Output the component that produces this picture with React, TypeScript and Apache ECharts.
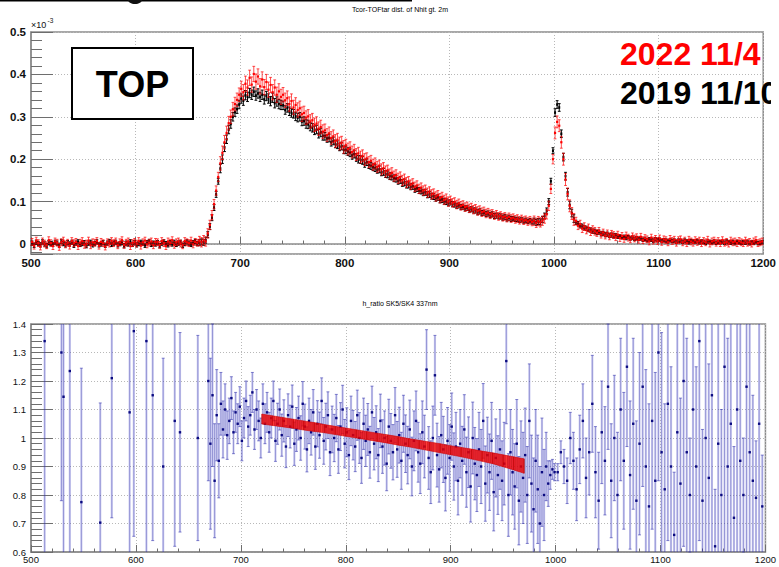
import React, { useEffect, useRef } from "react";
import * as echarts from "echarts";

// ---------------- data ----------------
const X_MIN = 500;
const X_MAX = 1200;
const X_INTERVAL = 100;

// top panel: Tcor-TOFtar distribution (units of 1e-3), bins centred at 501 + 2*i
const TOP_X_START = 501;
const TOP_X_STEP = 2;
const BLACK_2019 = [
  0.002, -0.003, 0.004, 0.001, -0.002, 0.005, 0.0, -0.004, 0.003, 0.001,
  -0.001, 0.004, 0.002, -0.003, 0.006, 0.001, -0.002, 0.003, 0.0, 0.004,
  -0.003, 0.002, 0.005, -0.001, 0.001, 0.003, -0.004, 0.002, 0.004, -0.002,
  0.001, 0.005, -0.002, 0.0, 0.003, -0.003, 0.002, 0.006, -0.001, 0.002,
  0.004, -0.002, 0.001, 0.003, -0.004, 0.002, 0.0, 0.005, -0.001, 0.003,
  -0.002, 0.001, 0.004, 0.002, -0.003, 0.003, 0.006, -0.001, 0.002, 0.0,
  0.003, -0.004, 0.002, 0.005, 0.001, -0.002, 0.003, 0.0, 0.004, -0.001,
  0.002, 0.004, -0.003, 0.001, 0.005, 0.002, -0.001, 0.003, 0.006, 0.001,
  0.003, 0.005, 0.004, 0.009, 0.022, 0.041, 0.062, 0.086, 0.117, 0.148,
  0.178, 0.2, 0.228, 0.247, 0.27, 0.283, 0.3, 0.311, 0.318, 0.329,
  0.343, 0.338, 0.351, 0.347, 0.356, 0.352, 0.359, 0.35, 0.355, 0.347,
  0.352, 0.341, 0.349, 0.343, 0.337, 0.345, 0.332, 0.336, 0.33, 0.328,
  0.327, 0.316, 0.321, 0.313, 0.309, 0.307, 0.301, 0.298, 0.3, 0.289,
  0.29, 0.283, 0.282, 0.277, 0.274, 0.268, 0.27, 0.26, 0.263, 0.255,
  0.254, 0.249, 0.25, 0.24, 0.243, 0.236, 0.234, 0.229, 0.231, 0.222,
  0.222, 0.218, 0.215, 0.209, 0.212, 0.204, 0.2, 0.199, 0.197, 0.19,
  0.193, 0.186, 0.184, 0.181, 0.179, 0.175, 0.176, 0.169, 0.17, 0.165,
  0.164, 0.16, 0.159, 0.155, 0.154, 0.149, 0.151, 0.144, 0.145, 0.14,
  0.139, 0.135, 0.136, 0.129, 0.131, 0.126, 0.125, 0.121, 0.122, 0.116,
  0.117, 0.113, 0.112, 0.108, 0.11, 0.104, 0.105, 0.101, 0.1, 0.097,
  0.098, 0.094, 0.093, 0.09, 0.091, 0.087, 0.088, 0.084, 0.085, 0.081,
  0.082, 0.079, 0.079, 0.075, 0.077, 0.073, 0.074, 0.071, 0.072, 0.068,
  0.07, 0.066, 0.067, 0.065, 0.065, 0.062, 0.064, 0.06, 0.062, 0.059,
  0.06, 0.058, 0.058, 0.056, 0.057, 0.054, 0.056, 0.053, 0.055, 0.052,
  0.054, 0.051, 0.053, 0.052, 0.058, 0.066, 0.078, 0.1, 0.148, 0.22,
  0.31, 0.329, 0.322, 0.26, 0.205, 0.16, 0.122, 0.092, 0.073, 0.06,
  0.051, 0.048, 0.043, 0.042, 0.038, 0.037, 0.034, 0.033, 0.03, 0.03,
  0.027, 0.028, 0.024, 0.025, 0.022, 0.023, 0.02, 0.021, 0.019, 0.02,
  0.017, 0.018, 0.016, 0.017, 0.014, 0.016, 0.013, 0.015, 0.012, 0.014,
  0.012, 0.013, 0.01, 0.012, 0.009, 0.011, 0.01, 0.008, 0.011, 0.009,
  0.01, 0.007, 0.009, 0.008, 0.006, 0.009, 0.007, 0.008, 0.005, 0.008,
  0.007, 0.005, 0.008, 0.006, 0.004, 0.007, 0.006, 0.005, 0.007, 0.004,
  0.006, 0.005, 0.003, 0.006, 0.005, 0.004, 0.006, 0.003, 0.005, 0.004,
  0.005, 0.003, 0.006, 0.004, 0.003, 0.005, 0.002, 0.005, 0.004, 0.003,
  0.004, 0.003, 0.005, 0.002, 0.004, 0.003, 0.005, 0.002, 0.003, 0.004,
];
const RED_2022 = [
  0.005, -0.004, 0.008, 0.002, -0.006, 0.006, 0.001, -0.003, 0.009, 0.002,
  -0.005, 0.006, 0.003, -0.007, 0.004, 0.008, -0.001, 0.003, -0.004, 0.007,
  0.002, 0.005, -0.005, 0.003, 0.007, -0.002, 0.001, 0.008, -0.003, 0.004,
  0.003, 0.007, -0.004, 0.005, 0.002, -0.006, 0.004, 0.001, 0.007, 0.002,
  0.006, -0.003, 0.004, 0.009, -0.002, 0.003, 0.006, -0.005, 0.002, 0.005,
  0.001, 0.007, -0.004, 0.004, 0.008, -0.001, 0.003, 0.006, -0.003, 0.005,
  0.004, -0.002, 0.007, 0.002, -0.005, 0.006, 0.003, 0.009, -0.002, 0.004,
  0.006, 0.001, -0.003, 0.007, 0.004, 0.002, 0.008, -0.001, 0.005, 0.003,
  0.007, 0.004, 0.009, 0.006, 0.025, 0.045, 0.068, 0.094, 0.126, 0.158,
  0.19, 0.215, 0.24, 0.262, 0.285, 0.3, 0.318, 0.33, 0.34, 0.352,
  0.366, 0.358, 0.378, 0.369, 0.392, 0.376, 0.401, 0.383, 0.395, 0.372,
  0.388, 0.37, 0.382, 0.364, 0.375, 0.358, 0.369, 0.352, 0.36, 0.347,
  0.352, 0.339, 0.344, 0.33, 0.337, 0.322, 0.328, 0.316, 0.32, 0.306,
  0.309, 0.298, 0.301, 0.289, 0.292, 0.281, 0.284, 0.272, 0.276, 0.265,
  0.268, 0.257, 0.261, 0.25, 0.254, 0.243, 0.246, 0.237, 0.239, 0.229,
  0.233, 0.224, 0.227, 0.217, 0.221, 0.211, 0.214, 0.205, 0.208, 0.199,
  0.202, 0.193, 0.196, 0.187, 0.19, 0.182, 0.185, 0.176, 0.179, 0.171,
  0.174, 0.165, 0.168, 0.16, 0.163, 0.155, 0.158, 0.15, 0.153, 0.145,
  0.148, 0.14, 0.143, 0.135, 0.138, 0.13, 0.133, 0.126, 0.128, 0.121,
  0.124, 0.117, 0.119, 0.112, 0.115, 0.108, 0.111, 0.104, 0.107, 0.1,
  0.103, 0.097, 0.099, 0.093, 0.096, 0.09, 0.092, 0.087, 0.089, 0.084,
  0.086, 0.081, 0.083, 0.078, 0.08, 0.075, 0.077, 0.072, 0.074, 0.07,
  0.072, 0.067, 0.07, 0.065, 0.067, 0.063, 0.065, 0.061, 0.064, 0.06,
  0.062, 0.058, 0.06, 0.056, 0.059, 0.055, 0.057, 0.053, 0.056, 0.052,
  0.055, 0.05, 0.054, 0.051, 0.055, 0.06, 0.07, 0.09, 0.13, 0.2,
  0.262, 0.288, 0.279, 0.24, 0.2, 0.152, 0.118, 0.09, 0.072, 0.058,
  0.054, 0.043, 0.047, 0.036, 0.041, 0.033, 0.038, 0.029, 0.034, 0.03,
  0.026, 0.031, 0.022, 0.027, 0.02, 0.025, 0.018, 0.024, 0.021, 0.016,
  0.022, 0.014, 0.019, 0.012, 0.02, 0.015, 0.011, 0.018, 0.013, 0.016,
  0.01, 0.017, 0.009, 0.014, 0.011, 0.006, 0.015, 0.008, 0.012, 0.007,
  0.013, 0.005, 0.011, 0.009, 0.004, 0.012, 0.007, 0.01, 0.003, 0.009,
  0.011, 0.004, 0.008, 0.002, 0.01, 0.006, 0.003, 0.009, 0.005, 0.008,
  0.002, 0.007, 0.004, 0.01, 0.001, 0.006, 0.008, 0.003, 0.007, 0.002,
  0.009, 0.003, 0.005, 0.001, 0.008, 0.004, 0.006, 0.002, 0.007, 0.004,
  0.002, 0.008, 0.003, 0.005, 0.001, 0.006, 0.009, 0.002, 0.004, 0.006,
];
// error bars, one value per 20-unit block starting at 500
const ERR_BLOCK = 20;
const BLACK_ERR = [
  0.005, 0.005, 0.005, 0.005, 0.005, 0.005, 0.005, 0.005, 0.007, 0.01,
  0.011, 0.011, 0.01, 0.01, 0.009, 0.009, 0.008, 0.008, 0.007, 0.007,
  0.006, 0.006, 0.006, 0.005, 0.007, 0.009, 0.005, 0.005, 0.004, 0.004,
  0.004, 0.004, 0.004, 0.004, 0.004,
];
const RED_ERR = [
  0.008, 0.008, 0.008, 0.008, 0.008, 0.008, 0.008, 0.008, 0.011, 0.016,
  0.018, 0.018, 0.017, 0.016, 0.015, 0.014, 0.013, 0.012, 0.011, 0.011,
  0.01, 0.01, 0.009, 0.009, 0.011, 0.014, 0.009, 0.008, 0.008, 0.008,
  0.008, 0.008, 0.008, 0.008, 0.008,
];

// bottom panel: ratio SK5/SK4
const RATIO_SPARSE_X = [513, 529, 531, 537, 548, 566, 577, 594, 598, 610, 616, 626, 637, 642, 659];
const RATIO_SPARSE_Y = [1.34, 1.3, 1.145, 1.235, 0.775, 0.703, 1.21, 1.09, 1.375, 1.34, 1.15, 0.9, 1.06, 1.02, 1.0];
const RATIO_SPARSE_E = [0.9, 0.52, 0.6, 0.9, 0.47, 0.42, 0.49, 0.9, 0.72, 0.9, 0.51, 0.38, 0.44, 0.35, 0.36];

const RATIO_DENSE_START = 669;
const RATIO_DENSE_STEP = 2;
const RATIO_DENSE_Y = [
  1.2, 0.98, 1.15, 0.85, 1.08, 0.92, 1.12, 1.03, 1.1, 1.01,
  1.06, 1.14, 1.02, 1.09, 1.05, 1.11, 0.99, 1.07, 1.13, 1.04,
  1.08, 1.16, 1.03, 1.1, 1.06, 1.0, 1.12, 1.05, 1.09, 1.02,
  1.07, 1.13, 0.99, 1.05, 1.1, 1.01, 1.06, 0.97, 1.08, 1.04,
  1.11, 0.98, 1.03, 1.07, 1.0, 1.12, 1.04, 0.96, 1.06, 1.02,
  1.09, 0.97, 1.05, 1.01, 1.13, 0.99, 1.04, 1.08, 0.95, 1.03,
  1.0, 1.07, 0.96, 1.04, 1.1, 0.98, 1.02, 0.94, 1.06, 1.01,
  0.97, 1.08, 1.0, 0.93, 1.05, 0.99, 1.03, 0.95, 1.09, 0.98,
  1.02, 0.94, 1.06, 0.97, 1.0, 0.91, 1.04, 0.99, 0.95, 1.08,
  0.96, 1.01, 0.92, 1.05, 0.98, 0.94, 1.03, 0.9, 0.99, 1.06,
  0.95, 0.91, 1.02, 0.97, 1.24, 0.93, 0.88, 1.0, 1.22, 0.94,
  0.89, 1.01, 0.96, 0.86, 0.99, 0.93, 1.04, 0.9, 0.97, 0.85,
  0.98, 0.92, 1.03, 0.88, 0.95, 0.83, 1.0, 0.91, 0.87, 0.96,
  0.9, 1.06, 0.84, 0.94, 0.88, 0.99, 0.81, 0.93, 0.87, 0.96,
  0.85, 0.91, 1.27, 0.8, 0.95, 0.88, 0.83, 0.98, 0.78, 0.9,
  0.86, 0.94, 0.8, 1.06, 0.84, 0.75, 0.92, 0.82, 0.7, 0.88,
  0.8, 0.9, 0.84, 0.87, 0.89, 0.88,
];
const RATIO_DENSE_E = [
  0.35, 0.3, 0.25, 0.2, 0.16, 0.13, 0.11, 0.1, 0.09, 0.085,
  0.08, 0.075, 0.075, 0.07, 0.07, 0.07, 0.07, 0.07, 0.07, 0.07,
  0.07, 0.07, 0.07, 0.07, 0.07, 0.07, 0.07, 0.07, 0.07, 0.07,
  0.07, 0.07, 0.072, 0.072, 0.072, 0.074, 0.074, 0.074, 0.075, 0.075,
  0.076, 0.076, 0.077, 0.077, 0.078, 0.078, 0.079, 0.079, 0.08, 0.08,
  0.08, 0.08, 0.081, 0.081, 0.081, 0.082, 0.082, 0.082, 0.082, 0.082,
  0.083, 0.083, 0.084, 0.084, 0.085, 0.085, 0.086, 0.086, 0.087, 0.087,
  0.088, 0.088, 0.089, 0.089, 0.09, 0.09, 0.091, 0.091, 0.092, 0.092,
  0.093, 0.093, 0.094, 0.094, 0.095, 0.095, 0.096, 0.096, 0.097, 0.097,
  0.098, 0.098, 0.1, 0.1, 0.101, 0.101, 0.103, 0.103, 0.105, 0.105,
  0.105, 0.105, 0.11, 0.11, 0.14, 0.11, 0.11, 0.112, 0.14, 0.112,
  0.115, 0.115, 0.116, 0.116, 0.117, 0.117, 0.118, 0.118, 0.12, 0.12,
  0.12, 0.121, 0.122, 0.123, 0.124, 0.125, 0.126, 0.127, 0.128, 0.13,
  0.13, 0.131, 0.132, 0.133, 0.134, 0.135, 0.136, 0.137, 0.138, 0.14,
  0.14, 0.145, 0.22, 0.145, 0.15, 0.15, 0.15, 0.155, 0.155, 0.16,
  0.16, 0.165, 0.17, 0.2, 0.17, 0.18, 0.18, 0.19, 0.2, 0.19,
  0.16, 0.12, 0.08, 0.05, 0.035, 0.03,
];
const RATIO_TAIL_START = 1002;
const RATIO_TAIL_STEP = 3;
const RATIO_TAIL_Y = [
  0.88, 0.95, 0.9, 0.85, 1.0, 0.92, 0.82, 0.96, 1.06, 0.86,
  0.95, 1.12, 0.88, 0.78, 1.02, 0.92, 1.18, 0.85, 1.0, 0.8,
  1.1, 0.92, 1.25, 0.87, 1.05, 0.78, 0.98, 1.18, 0.9, 0.76,
  1.06, 0.85, 1.3, 0.95, 0.82, 1.12, 0.9, 0.66, 1.02, 0.84,
  1.2, 0.95, 0.8, 1.1, 0.9, 1.34, 0.78, 1.0, 0.86, 1.15,
  0.62, 0.98, 0.8, 1.25, 0.9, 1.05, 0.72, 1.1, 0.92, 0.8,
  1.18, 0.95, 0.85, 0.79, 1.05, 0.76,
];
const RATIO_TAIL_E = [
  0.03, 0.04, 0.06, 0.08, 0.09, 0.1, 0.11, 0.12, 0.13, 0.14,
  0.15, 0.17, 0.16, 0.17, 0.18, 0.19, 0.22, 0.2, 0.22, 0.22,
  0.25, 0.24, 0.28, 0.26, 0.3, 0.28, 0.32, 0.35, 0.34, 0.36,
  0.38, 0.38, 0.45,
  0.42, 0.3, 0.48, 0.35, 0.22, 0.52, 0.3,
  0.58, 0.4, 0.2, 0.62, 0.35, 0.7, 0.25, 0.72, 0.4, 0.78,
  0.2, 0.8, 0.3, 0.85, 0.45, 0.9, 0.25, 0.9, 0.5, 0.2,
  0.95, 0.6, 0.3, 0.2, 0.95, 0.18,
];

// linear fit band (upper / lower edge)
const BAND_X = [720, 730, 740, 750, 760, 770, 780, 790, 800, 810, 820, 830, 840, 850, 860, 870, 880, 890, 900, 910, 920, 930, 940, 950, 960, 970];
const BAND_HI = [1.084, 1.078, 1.072, 1.066, 1.06, 1.054, 1.047, 1.041, 1.035, 1.029, 1.023, 1.017, 1.011, 1.005, 0.998, 0.992, 0.986, 0.98, 0.973, 0.967, 0.961, 0.954, 0.948, 0.941, 0.934, 0.927];
const BAND_LO = [1.049, 1.044, 1.039, 1.034, 1.028, 1.023, 1.018, 1.012, 1.006, 1.0, 0.994, 0.988, 0.982, 0.975, 0.969, 0.962, 0.955, 0.948, 0.941, 0.934, 0.926, 0.918, 0.91, 0.899, 0.888, 0.876];

// ---------------- helpers ----------------
const FONT = "'Liberation Sans', Arial, Helvetica, sans-serif";
const NARROW = "'Liberation Sans Narrow', 'Liberation Sans', Arial, sans-serif";

type ErrStyle = {
  bar: string;
  barW: number;
  core?: string;
  coreW?: number;
  cap: number;
  capColor: string;
  mark: string;
  mw: number;
  mh: number;
};

function errRender(s: ErrStyle) {
  return (params: any, api: any) => {
    const x = api.value(0);
    const y = api.value(1);
    const e = api.value(2);
    const cs = params.coordSys;
    const top = cs.y;
    const bot = cs.y + cs.height;
    const c = api.coord([x, y]);
    const hi = api.coord([x, y + e])[1];
    const lo = api.coord([x, y - e])[1];
    const yHi = Math.max(top, hi);
    const yLo = Math.min(bot, lo);
    const ch: any[] = [];
    if (yLo > yHi) {
      ch.push({ type: "line", shape: { x1: c[0], y1: yHi, x2: c[0], y2: yLo }, style: { stroke: s.bar, lineWidth: s.barW } });
      if (s.core) {
        ch.push({ type: "line", shape: { x1: c[0], y1: yHi, x2: c[0], y2: yLo }, style: { stroke: s.core, lineWidth: s.coreW || 0.8 } });
      }
    }
    if (hi >= top && hi <= bot) {
      ch.push({ type: "line", shape: { x1: c[0] - s.cap, y1: hi, x2: c[0] + s.cap, y2: hi }, style: { stroke: s.capColor, lineWidth: 1 } });
    }
    if (lo <= bot && lo >= top) {
      ch.push({ type: "line", shape: { x1: c[0] - s.cap, y1: lo, x2: c[0] + s.cap, y2: lo }, style: { stroke: s.capColor, lineWidth: 1 } });
    }
    if (c[1] >= top && c[1] <= bot) {
      ch.push({ type: "rect", shape: { x: c[0] - s.mw / 2, y: c[1] - s.mh / 2, width: s.mw, height: s.mh }, style: { fill: s.mark } });
    }
    return { type: "group", children: ch };
  };
}

function bandRender(params: any, api: any) {
  const i = params.dataIndexInside;
  const n = params.dataInsideLength;
  const x0 = api.value(0);
  const lo0 = api.value(1);
  const hi0 = api.value(2);
  if (i >= n - 1) {
    const a = api.coord([x0, hi0]);
    const b = api.coord([x0, lo0]);
    return { type: "line", shape: { x1: a[0], y1: a[1], x2: b[0], y2: b[1] }, style: { stroke: "rgba(150,0,0,0.8)", lineWidth: 0.8 } };
  }
  const x1 = api.value(0, i + 1);
  const lo1 = api.value(1, i + 1);
  const hi1 = api.value(2, i + 1);
  const pA = api.coord([x0, hi0]);
  const pB = api.coord([x1, hi1]);
  const pC = api.coord([x1, lo1]);
  const pD = api.coord([x0, lo0]);
  const ch: any[] = [
    {
      type: "polygon",
      shape: { points: [pA, pB, pC, pD] },
      style: { fill: "rgba(255,0,0,0.78)", stroke: "rgba(210,0,0,0.9)", lineWidth: 0.6 },
    },
  ];
  for (const f of [0, 0.2, 0.4, 0.6, 0.8]) {
    const xx = pA[0] + (pB[0] - pA[0]) * f;
    const yt = pA[1] + (pB[1] - pA[1]) * f;
    const yb = pD[1] + (pC[1] - pD[1]) * f;
    ch.push({ type: "line", shape: { x1: xx, y1: yt, x2: xx, y2: yb }, style: { stroke: "rgba(150,0,0,0.55)", lineWidth: 0.6 } });
  }
  return { type: "group", children: ch };
}

const AXIS_GRAY = "#8c8c8c";
const TICK_GRAY = "#6e6e6e";
const GRID_LINE = { show: true, lineStyle: { color: "#b8b8b8", type: [1, 2] as any, width: 1 } };

function xAxisDef(gridIndex: number, label: any) {
  return {
    gridIndex,
    type: "value",
    min: X_MIN,
    max: X_MAX,
    interval: X_INTERVAL,
    axisLine: { show: true, lineStyle: { color: AXIS_GRAY, width: 1.5 } },
    axisTick: { show: true, inside: true, length: 7, lineStyle: { color: TICK_GRAY, width: 1 } },
    minorTick: { show: true, splitNumber: 5, length: 3.5, lineStyle: { color: TICK_GRAY, width: 1 } },
    splitLine: GRID_LINE,
    axisLabel: { showMinLabel: true, showMaxLabel: true, color: "#111", formatter: (v: number) => String(v), ...label },
  };
}

export default function App() {
  const ref = useRef<HTMLDivElement>(null);

  useEffect(() => {
    if (!ref.current) return;
    const chart = echarts.init(ref.current, undefined, { renderer: "svg" });

    const blackData = BLACK_2019.map((v, i) => {
      const x = TOP_X_START + TOP_X_STEP * i;
      return [x, v, BLACK_ERR[Math.floor((x - X_MIN) / ERR_BLOCK)]];
    });
    const redData = RED_2022.map((v, i) => {
      const x = TOP_X_START + TOP_X_STEP * i;
      return [x, v, RED_ERR[Math.floor((x - X_MIN) / ERR_BLOCK)]];
    });
    const ratioData: number[][] = [];
    RATIO_SPARSE_X.forEach((x, i) => ratioData.push([x, RATIO_SPARSE_Y[i], RATIO_SPARSE_E[i]]));
    RATIO_DENSE_Y.forEach((v, i) => ratioData.push([RATIO_DENSE_START + RATIO_DENSE_STEP * i, v, RATIO_DENSE_E[i]]));
    RATIO_TAIL_Y.forEach((v, i) => ratioData.push([RATIO_TAIL_START + RATIO_TAIL_STEP * i, v, RATIO_TAIL_E[i]]));
    const bandData = BAND_X.map((x, i) => [x, BAND_LO[i], BAND_HI[i]]);

    const isTenth = (v: number) => Math.abs(v * 10 - Math.round(v * 10)) < 1e-6;

    chart.setOption({
      animation: false,
      backgroundColor: "#ffffff",
      grid: [
        { left: 31, top: 32, width: 739, height: 222, show: true, borderColor: AXIS_GRAY, borderWidth: 1.5, backgroundColor: "transparent" },
        { left: 31, top: 324, width: 739, height: 228, show: true, borderColor: AXIS_GRAY, borderWidth: 1.5, backgroundColor: "transparent" },
      ],
      xAxis: [
        xAxisDef(0, { fontFamily: NARROW, fontWeight: "bold", fontSize: 11.5, margin: 3 }),
        xAxisDef(1, { fontFamily: FONT, fontSize: 9.5, margin: 2 }),
      ],
      yAxis: [
        {
          gridIndex: 0,
          type: "value",
          min: -0.0236,
          max: 0.5,
          splitNumber: 5,
          minInterval: 0.1,
          maxInterval: 0.1,
          axisLine: { show: true, lineStyle: { color: AXIS_GRAY, width: 1.5 } },
          axisTick: { show: true, inside: true, length: 22, lineStyle: { color: TICK_GRAY, width: 1 } },
          minorTick: { show: true, splitNumber: 5, length: 11, lineStyle: { color: TICK_GRAY, width: 1 } },
          splitLine: GRID_LINE,
          axisLabel: {
            color: "#111",
            fontFamily: NARROW,
            fontWeight: "bold",
            fontSize: 11.5,
            margin: 5,
            showMinLabel: true,
            showMaxLabel: true,
            formatter: (v: number) => (isTenth(v) ? (Math.abs(v) < 1e-9 ? "0" : v.toFixed(1)) : ""),
          },
        },
        {
          gridIndex: 1,
          type: "value",
          min: 0.6,
          max: 1.4,
          interval: 0.1,
          axisLine: { show: true, lineStyle: { color: AXIS_GRAY, width: 1.5 } },
          axisTick: { show: true, inside: true, length: 22, lineStyle: { color: TICK_GRAY, width: 1 } },
          minorTick: { show: true, splitNumber: 5, length: 11, lineStyle: { color: TICK_GRAY, width: 1 } },
          splitLine: GRID_LINE,
          axisLabel: {
            color: "#111",
            fontFamily: FONT,
            fontSize: 9.5,
            margin: 5,
            showMinLabel: true,
            showMaxLabel: true,
            formatter: (v: number) => (Math.abs(v - 1) < 1e-9 ? "1" : v.toFixed(1)),
          },
        },
      ],
      series: [
        {
          type: "custom",
          name: "2019",
          xAxisIndex: 0,
          yAxisIndex: 0,
          silent: true,
          data: blackData,
          encode: { x: 0, y: 1 },
          renderItem: errRender({ bar: "#000", barW: 1, cap: 1.4, capColor: "#000", mark: "#000", mw: 2, mh: 2.6 }),
          z: 3,
        },
        {
          type: "custom",
          name: "2022",
          xAxisIndex: 0,
          yAxisIndex: 0,
          silent: true,
          data: redData,
          encode: { x: 0, y: 1 },
          renderItem: errRender({ bar: "rgba(255,0,0,0.7)", barW: 1, cap: 1.4, capColor: "rgba(255,0,0,0.7)", mark: "#ff0000", mw: 2.2, mh: 2.2 }),
          z: 4,
        },
        {
          type: "custom",
          name: "ratio",
          xAxisIndex: 1,
          yAxisIndex: 1,
          silent: true,
          data: ratioData,
          encode: { x: 0, y: 1 },
          renderItem: errRender({
            bar: "rgba(90,90,210,0.3)",
            barW: 2.2,
            core: "rgba(20,20,150,0.5)",
            coreW: 0.6,
            cap: 1.5,
            capColor: "rgba(40,40,170,0.55)",
            mark: "#0a0a80",
            mw: 2.4,
            mh: 2.4,
          }),
          z: 3,
        },
        {
          type: "custom",
          name: "fit",
          xAxisIndex: 1,
          yAxisIndex: 1,
          silent: true,
          data: bandData,
          encode: { x: 0, y: [1, 2] },
          renderItem: bandRender,
          z: 5,
        },
      ],
      graphic: [
        { type: "line", z: 50, shape: { x1: 0, y1: 0.8, x2: 412, y2: 0.8 }, style: { stroke: "#000", lineWidth: 1.6 } },
        { type: "ellipse", z: 50, shape: { cx: 135, cy: 0, rx: 7, ry: 4 }, style: { fill: "#111" } },
        {
          type: "text", z: 50, x: 400, y: 9,
          style: { text: "Tcor-TOFtar dist. of Nhit gt. 2m", fontSize: 7, fontFamily: FONT, fill: "#000", align: "center", verticalAlign: "middle" },
        },
        {
          type: "text", z: 50, x: 31, y: 25,
          style: { text: "×10", fontSize: 9, fontFamily: FONT, fill: "#111", align: "left", verticalAlign: "middle" },
        },
        {
          type: "text", z: 50, x: 47.5, y: 20.5,
          style: { text: "-3", fontSize: 6.5, fontFamily: FONT, fill: "#111", align: "left", verticalAlign: "middle" },
        },
        { type: "rect", z: 50, shape: { x: 72, y: 48, width: 121, height: 71 }, style: { fill: "#fff", stroke: "#000", lineWidth: 2 } },
        {
          type: "text", z: 51, x: 132.5, y: 84,
          style: { text: "TOP", fontSize: 36, fontWeight: "bold", fontFamily: FONT, fill: "#000", align: "center", verticalAlign: "middle" },
        },
        {
          type: "text", z: 51, x: 620, y: 54,
          style: { text: "2022 11/4", fontSize: 32, fontWeight: "bold", fontFamily: FONT, fill: "#ff0000", align: "left", verticalAlign: "middle" },
        },
        {
          type: "text", z: 51, x: 620, y: 93,
          style: { text: "2019 11/10", fontSize: 32, fontWeight: "bold", fontFamily: FONT, fill: "#000", align: "left", verticalAlign: "middle" },
        },
        { type: "rect", z: 60, shape: { x: 771, y: 34, width: 8, height: 76 }, style: { fill: "#fff" } },
        {
          type: "text", z: 50, x: 400, y: 303,
          style: { text: "h_ratio SK5/SK4 337nm", fontSize: 7, fontFamily: FONT, fill: "#000", align: "center", verticalAlign: "middle" },
        },
      ],
    });

    return () => chart.dispose();
  }, []);

  return (
    <div
      ref={ref}
      style={{ position: "absolute", left: 0, top: 0, width: 779, height: 567, background: "#fff" }}
    />
  );
}
